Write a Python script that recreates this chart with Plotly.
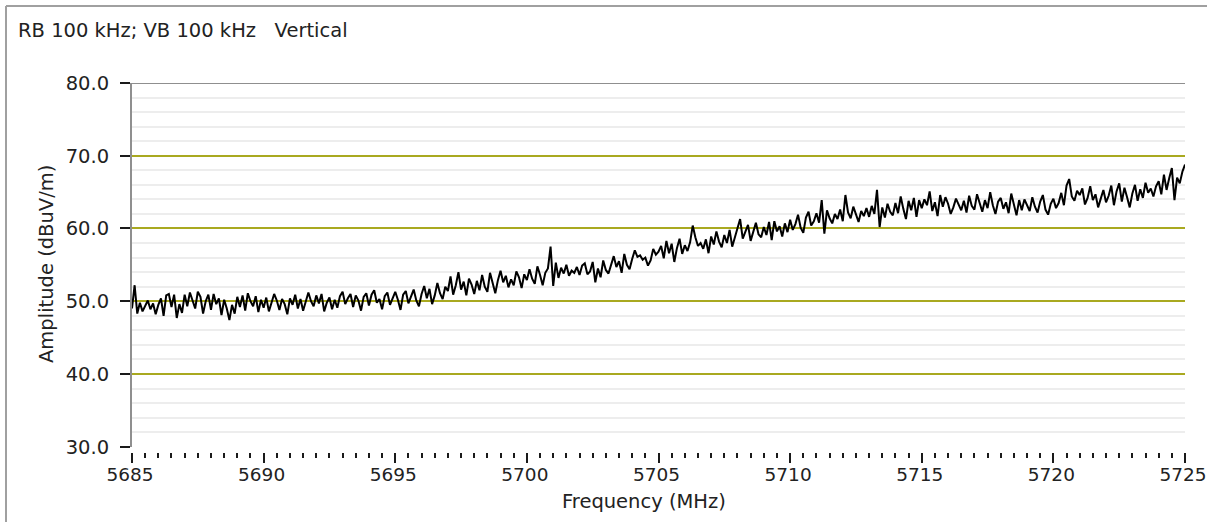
import plotly.graph_objects as go

# ---- data ----
freq_start = 5685.0
freq_step = 0.1
amplitude = [
    49.0, 52.2, 48.3, 49.8, 48.6, 49.4, 50.1, 48.9, 49.7, 48.2,
    49.5, 50.4, 48.0, 50.8, 51.0, 49.2, 50.9, 47.7, 49.6, 48.4,
    50.9, 49.3, 51.2, 50.1, 49.0, 51.3, 50.6, 48.3, 50.0, 50.9,
    48.8, 51.0, 49.6, 50.4, 48.1, 50.2, 49.0, 47.4, 49.5, 48.3,
    50.6, 49.2, 50.8, 48.7, 51.1, 50.0, 49.3, 50.7, 48.5, 50.2,
    49.1, 50.5, 48.6, 49.8, 51.0, 50.1, 48.8, 50.3, 49.6, 48.2,
    50.4, 49.5, 50.9, 49.0, 50.3, 48.7, 49.9, 51.2, 50.0, 49.3,
    50.8, 49.7, 51.0, 48.6, 49.8, 50.5, 48.9, 50.2, 49.1, 50.7,
    51.3, 49.6, 50.4, 51.0, 49.2, 50.8, 50.1, 48.7, 50.6, 51.1,
    49.4, 50.9, 51.5, 49.8, 50.3, 48.9, 50.7, 51.2, 49.5, 50.4,
    51.3, 50.2, 48.8, 50.9, 51.4, 49.7, 50.6, 51.6, 50.1, 49.3,
    51.0, 52.1, 50.4, 51.7, 49.6, 50.8, 52.5, 51.1, 50.3, 52.0,
    51.4, 53.4, 50.9, 52.2, 54.0, 51.6, 52.7, 50.8, 53.1, 52.3,
    51.0, 52.8, 51.5, 53.6, 52.0, 51.3, 53.9, 52.4, 51.1, 52.9,
    54.2, 52.6, 53.5, 51.9, 53.0, 52.2, 54.1, 53.3, 51.8, 53.7,
    52.9, 54.4, 53.1, 52.4, 54.8, 53.6, 52.2, 53.9, 54.5, 57.5,
    52.1, 55.3, 53.2, 54.6, 53.8, 55.0, 53.5, 54.2, 53.9, 54.7,
    53.6, 54.9, 55.2, 53.7, 54.1, 55.4, 52.6, 54.5, 53.3, 55.6,
    54.3, 53.8, 55.1, 56.2, 54.7, 55.5, 53.9, 56.5, 55.0, 54.4,
    55.8, 57.0, 56.1, 56.3, 55.7, 56.0, 54.9, 55.6, 57.2, 56.4,
    56.8, 57.6, 55.9, 58.3, 56.6, 57.9, 55.4, 57.3, 58.6, 56.5,
    57.7, 56.9, 58.1, 60.4, 58.8, 57.6, 58.0, 57.2, 58.5, 56.6,
    58.9, 57.8, 59.6, 58.2, 57.4, 59.1, 58.0, 59.8, 57.5, 58.7,
    59.9, 61.3, 58.6, 59.7, 60.5, 58.3, 59.4, 60.8, 59.2, 58.8,
    60.2, 59.1, 60.9, 58.4, 61.0, 59.6, 60.3, 58.9, 60.7, 59.5,
    61.2, 59.8, 60.6, 61.9, 60.1, 59.4, 61.5, 62.3, 60.4, 61.0,
    62.1, 60.8, 63.9, 59.3, 62.5, 61.4, 60.7, 62.0, 61.3, 62.6,
    61.0, 64.6, 62.2, 61.4, 63.0, 61.8, 60.9, 62.4, 61.7, 62.8,
    61.6, 63.1, 62.0, 65.3, 60.2, 62.9, 61.5, 63.4, 62.3, 61.8,
    63.5, 62.1, 64.4, 62.7, 61.3, 63.8, 62.5, 64.2, 61.6, 63.9,
    62.8, 64.0, 63.2, 65.1, 62.4, 63.6, 61.7, 64.6, 63.0, 64.3,
    63.4, 62.0, 62.9, 64.1, 63.3, 62.5, 63.8, 62.2, 64.5, 63.1,
    62.6, 64.7, 63.5, 62.3, 63.9, 62.8, 65.0, 63.2, 62.0, 63.7,
    64.2, 62.7, 63.6, 62.1, 64.8, 63.3, 61.8, 63.9, 62.5, 64.0,
    63.1, 62.4, 64.3, 63.0, 62.2, 63.7, 64.6, 62.6, 61.9, 63.4,
    64.1, 62.8, 63.5, 64.9, 63.2, 65.9, 66.8, 64.4, 63.8, 65.2,
    64.6, 65.5, 63.3, 64.2, 65.8, 63.9, 64.7, 62.9, 64.1, 65.3,
    63.6, 64.5, 65.9, 63.2, 65.1, 66.2, 63.7, 65.6, 64.3, 62.9,
    64.8, 66.0, 63.8, 65.4, 64.2, 66.3, 64.9, 65.5, 64.4, 65.8,
    66.5, 64.7, 67.4, 65.3, 66.9, 68.3, 63.9, 67.0, 66.2, 67.8,
    68.8,
]
frequency = [round(freq_start + i * freq_step, 1) for i in range(len(amplitude))]

y_ticks = [30, 40, 50, 60, 70, 80]
y_tick_labels = ["30.0", "40.0", "50.0", "60.0", "70.0", "80.0"]
limit_lines = [40, 50, 60, 70]
x_ticks = [5685, 5690, 5695, 5700, 5705, 5710, 5715, 5720, 5725]
x_tick_labels = ["5685", "5690", "5695", "5700", "5705", "5710", "5715",
                 "5720", "5725"]

title_text = "RB 100 kHz; VB 100 kHz\u00a0\u00a0\u00a0Vertical"
x_title = "Frequency (MHz)"
y_title = "Amplitude (dBuV/m)"

# ---- layout geometry (pixels) ----
W, H = 1207, 522
ML, MR, MT, MB = 132, 22, 83, 70
plot_w = W - ML - MR
plot_h = H - MT - MB
gap = 5.3
d0 = gap / plot_h

FONT = "DejaVu Sans"
FS = 19.5
TXT = "#222222"

fig = go.Figure()
fig.add_trace(go.Scatter(
    x=frequency, y=amplitude, mode="lines",
    line=dict(color="#000000", width=2),
    showlegend=False, hoverinfo="skip",
))
# invisible trace to activate the overlay axis carrying the limit grid lines
fig.add_trace(go.Scatter(
    x=[frequency[0]], y=[amplitude[0]], yaxis="y2", mode="markers",
    marker=dict(opacity=0), showlegend=False, hoverinfo="skip",
))

def px_to_paper_x(px):
    return (px - ML) / plot_w

def px_to_paper_y(py):
    return (H - MB - py) / plot_h

fig.update_layout(
    width=W, height=H,
    margin=dict(l=ML, r=MR, t=MT, b=MB, pad=0, autoexpand=False),
    paper_bgcolor="white", plot_bgcolor="white",
    font=dict(family=FONT, size=FS, color=TXT),
    xaxis=dict(
        range=[5685, 5725], tickvals=x_ticks, ticktext=x_tick_labels,
        showgrid=False, zeroline=False, showline=False,
        ticks="outside", ticklen=10, tickwidth=2, tickcolor="#1a1a1a",
        minor=dict(dtick=0.5, tick0=5685, ticks="outside", ticklen=5,
                   tickwidth=2, tickcolor="#1a1a1a", showgrid=False),
        anchor="free", position=0,
        tickfont=dict(family=FONT, size=18.5, color=TXT),
        ticklabelstandoff=-4,
        ticklabelshift=-2,
        ticklabeloverflow="allow",
        automargin=False,
    ),
    yaxis=dict(
        domain=[d0, 1], range=[30, 80],
        tickvals=y_ticks, ticktext=y_tick_labels,
        showgrid=False, zeroline=False,
        showline=True, linecolor="#8f8f8f", linewidth=2,
        ticks="outside", ticklen=10, tickwidth=2, tickcolor="#1a1a1a",
        minor=dict(dtick=2, tick0=30, showgrid=True, gridcolor="#ededed",
                   gridwidth=2, ticks=""),
        tickfont=dict(family=FONT, size=FS, color=TXT),
        ticklabelstandoff=7,
        automargin=False,
    ),
    yaxis2=dict(
        overlaying="y", range=[30, 80], tickvals=limit_lines,
        showticklabels=False, ticks="", showline=False, zeroline=False,
        showgrid=True, gridcolor="#a9a920", gridwidth=2, automargin=False,
    ),
    showlegend=False,
)

# top frame line of the plot area
fig.add_shape(type="line", xref="paper", yref="y", x0=0, x1=1, y0=80, y1=80,
              line=dict(color="#8f8f8f", width=2))
# outer panel border (left and top)
fig.add_shape(type="line", xref="paper", yref="paper",
              x0=px_to_paper_x(6), x1=px_to_paper_x(W + 5),
              y0=px_to_paper_y(6), y1=px_to_paper_y(6),
              line=dict(color="#a0a0a0", width=2))
fig.add_shape(type="line", xref="paper", yref="paper",
              x0=px_to_paper_x(6), x1=px_to_paper_x(6),
              y0=px_to_paper_y(6), y1=px_to_paper_y(H + 5),
              line=dict(color="#a0a0a0", width=2))

fig.add_annotation(text=title_text, xref="paper", yref="paper",
                   x=px_to_paper_x(16), y=px_to_paper_y(30),
                   xanchor="left", yanchor="middle", showarrow=False,
                   font=dict(family=FONT, size=FS, color=TXT))
fig.add_annotation(text=x_title, xref="paper", yref="paper",
                   x=px_to_paper_x(644), y=px_to_paper_y(501),
                   xanchor="center", yanchor="middle", showarrow=False,
                   font=dict(family=FONT, size=FS, color=TXT))
fig.add_annotation(text=y_title, xref="paper", yref="paper",
                   x=px_to_paper_x(46), y=px_to_paper_y(264),
                   xanchor="center", yanchor="middle", showarrow=False,
                   textangle=-90,
                   font=dict(family=FONT, size=FS, color=TXT))

fig.write_html("out.html")
